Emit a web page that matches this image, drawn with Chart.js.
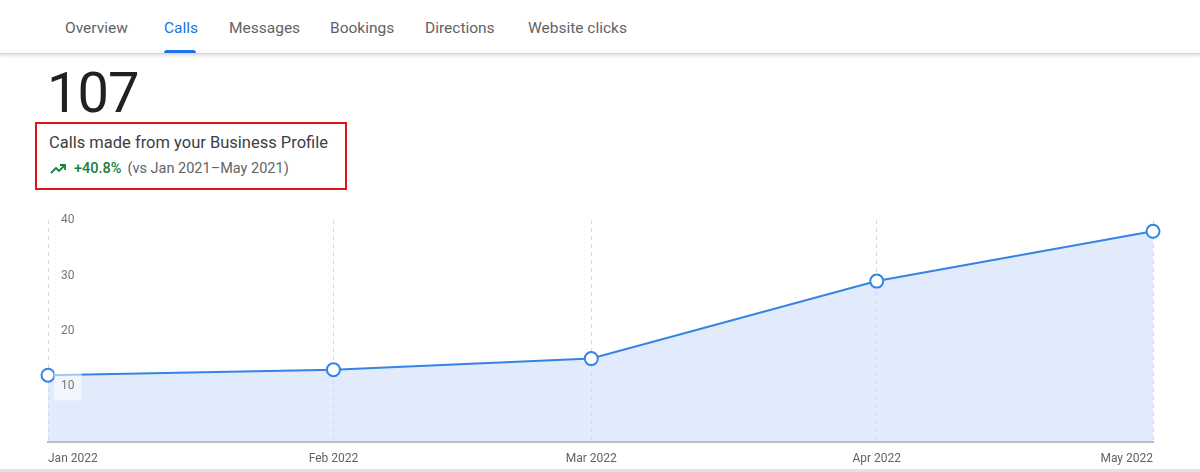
<!DOCTYPE html>
<html>
<head>
<meta charset="utf-8">
<script src="https://cdn.jsdelivr.net/npm/chart.js@4.4.1/dist/chart.umd.min.js"></script>
<style>
  html, body { margin: 0; padding: 0; background: #fff; }
  body { width: 1200px; height: 472px; position: relative; overflow: hidden; font-family: Roboto, "Noto Sans", Arial, sans-serif; }
  .tabs { position: absolute; left: 0; top: 0; width: 1200px; height: 53px; background: #fff; border-bottom: 1px solid #d6d6d6; box-shadow: 0 2px 3px rgba(0,0,0,0.12); z-index: 2; }
  .tab { position: absolute; top: 19px; font-size: 15.5px; color: #5f6368; }
  .tab.active { color: #1a73e8; }
  .underline { position: absolute; left: 164px; top: 50px; width: 32px; height: 3px; background: #1a73e8; border-radius: 3px 3px 0 0; }
  .big { position: absolute; left: 47px; top: 60px; font-size: 56px; color: #202124; font-weight: 400; letter-spacing: -1px; }
  .box { position: absolute; left: 35px; top: 122px; width: 308px; height: 64px; border: 2px solid #e0121a; }
  .title { position: absolute; left: 12px; top: 9px; font-size: 16.5px; color: #3c4043; white-space: nowrap; }
  .delta { position: absolute; left: 13px; top: 36px; font-size: 14.5px; color: #5f6368; white-space: nowrap; }
  .delta b { color: #188038; font-weight: 500; margin: 0 6px 0 8px; }
  .delta svg { vertical-align: -2px; }
  .wrap { position: absolute; left: 0; top: 200px; width: 1200px; height: 276px; }
  .bottom { position: absolute; left: 0; top: 469px; width: 1200px; height: 3px; background: #e4e4e4; }
</style>
</head>
<body>
<div class="tabs">
  <span class="tab" style="left:65px">Overview</span>
  <span class="tab active" style="left:164px">Calls</span>
  <span class="tab" style="left:229px">Messages</span>
  <span class="tab" style="left:330px">Bookings</span>
  <span class="tab" style="left:425px">Directions</span>
  <span class="tab" style="left:528px">Website clicks</span>
  <div class="underline"></div>
</div>
<div class="big">107</div>
<div class="box">
  <div class="title">Calls made from your Business Profile</div>
  <div class="delta"><svg width="16" height="12" viewBox="0 0 16 12"><path d="M1 10 L6 5 L9 8 L14 3" fill="none" stroke="#188038" stroke-width="1.8"/><path d="M10 2 L15 2 L15 7" fill="none" stroke="#188038" stroke-width="1.8"/></svg><b>+40.8%</b>(vs Jan 2021–May 2021)</div>
</div>
<div class="wrap"><canvas id="chart"></canvas></div>
<div class="bottom"></div>

<script>
// months shown on the x axis and calls per month
const monthDates = ['2022-01-01', '2022-02-01', '2022-03-01', '2022-04-01', '2022-05-01'];
const monthLabels = ['Jan 2022', 'Feb 2022', 'Mar 2022', 'Apr 2022', 'May 2022'];
const calls = [12, 13, 15, 29, 38];
const yTicks = [10, 20, 30, 40];

// no date adapter available, so position months by days since the first one
const start = Date.parse(monthDates[0]);
const dayOffsets = monthDates.map(d => Math.round((Date.parse(d) - start) / 86400000));

const points = dayOffsets.map((x, i) => ({ x, y: calls[i] }));

new Chart(document.getElementById('chart'), {
  type: 'line',
  data: {
    datasets: [{
      data: points,
      borderColor: '#3584e4',
      borderWidth: 2,
      backgroundColor: 'rgba(205,222,250,0.6)',
      fill: 'origin',
      tension: 0,
      pointRadius: 6.5,
      pointBorderWidth: 2,
      pointBackgroundColor: '#fff',
      pointBorderColor: '#3584e4',
      clip: false
    }]
  },
  options: {
    responsive: true,
    maintainAspectRatio: false,
    animation: false,
    layout: { padding: { left: 22, right: 47, top: 18, bottom: 0 } },
    plugins: { legend: { display: false }, tooltip: { enabled: false } },
    scales: {
      x: {
        type: 'linear',
        min: dayOffsets[0],
        max: dayOffsets[dayOffsets.length - 1],
        afterBuildTicks: axis => { axis.ticks = dayOffsets.map(v => ({ value: v })); },
        ticks: {
          align: 'inner',
          maxRotation: 0,
          autoSkip: false,
          padding: 10,
          color: '#5f6368',
          font: { family: 'Roboto', size: 12 },
          callback: (v) => monthLabels[dayOffsets.indexOf(v)]
        },
        grid: { color: '#d5d8dc', drawTicks: false, lineWidth: 1 },
        border: { display: true, color: '#b9bcc0', width: 2, dash: [4, 4] }
      },
      y: {
        min: 0,
        max: 40,
        afterBuildTicks: axis => { axis.ticks = yTicks.map(v => ({ value: v })); },
        ticks: {
          z: 1, // labels sit on top of the filled area
          mirror: true,
          padding: 13,
          color: '#757575',
          font: { family: 'Roboto', size: 12 },
          showLabelBackdrop: true,
          backdropColor: 'rgba(255,255,255,0.55)',
          backdropPadding: 7
        },
        grid: { display: false, drawTicks: false },
        border: { display: false }
      }
    }
  }
});
</script>
</body>
</html>
